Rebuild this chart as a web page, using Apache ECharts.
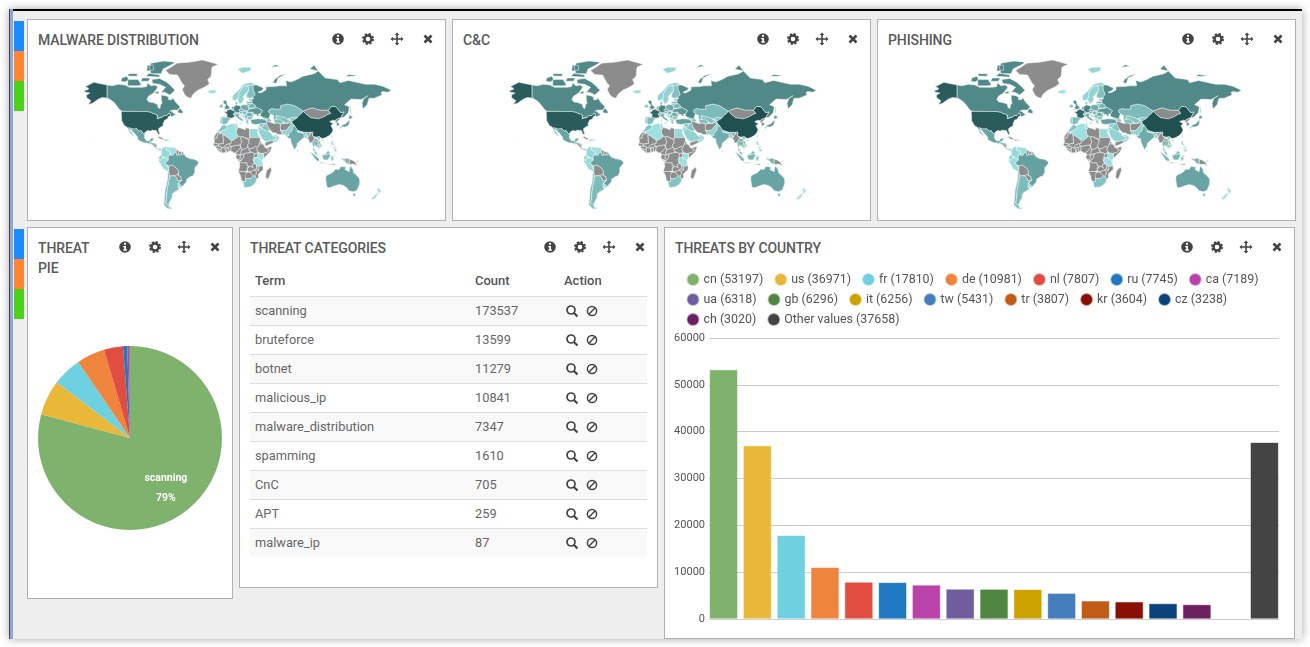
<!DOCTYPE html>
<html><head><meta charset="utf-8">
<script src="https://cdn.jsdelivr.net/npm/echarts@6/dist/echarts.min.js"></script>
<style>
html,body{margin:0;padding:0;width:1310px;height:647px;overflow:hidden;background:#fff;font-family:Roboto,Arial,sans-serif;color:#555}
#frame{position:absolute;left:9px;top:9px;width:1293px;height:630px;background:#eee;box-shadow:0 0 9px rgba(0,0,0,.35)}
#rail1{position:absolute;left:9px;top:9px;width:1px;height:630px;background:#444}
#rail2{position:absolute;left:10px;top:9px;width:3px;height:630px;background:#8ea6d8}
#topline{position:absolute;left:13px;top:9px;width:1289px;height:2px;background:#000}
.tab{position:absolute;left:14px;width:10px;height:30px}
.panel{position:absolute;background:#fff;border:1px solid #b0b0b0;box-sizing:border-box}
.title{position:absolute;left:10px;top:10px;font-size:14px;line-height:20px;font-weight:500;color:#5a5a5a;letter-spacing:-.1px}
.ico{position:absolute;top:12px;width:14px;height:14px}
#tbl{position:absolute;left:250px;top:267px;width:397px;font-size:12.8px;color:#666}
.row{position:absolute;left:0;width:397px;height:29px;box-sizing:border-box;border-top:1px solid #ddd;line-height:28px}
.row span,.hd span{position:absolute}
.hd{position:absolute;left:0;top:5px;width:397px;font-weight:500;color:#555;line-height:18px;font-size:13px}
.c1{left:5px}.c2{left:225px}.c3{left:314px}
#chart{position:absolute;left:0;top:0;width:1310px;height:647px}
</style></head><body>
<div id="frame"></div><div id="rail1"></div><div id="rail2"></div><div id="topline"></div>
<div id="chrome"></div>
<div id="tbl"></div>
<div id="chart"></div>
<script>
// ---------- table / pie data ----------
const threatTerms  = ['scanning','bruteforce','botnet','malicious_ip','malware_distribution','spamming','CnC','APT','malware_ip'];
const threatCounts = [173537,13599,11279,10841,7347,1610,705,259,87];
// ---------- bar data ----------
const countryNames  = ['cn','us','fr','de','nl','ru','ca','ua','gb','it','tw','tr','kr','cz','ch','Other values'];
const countryValues = [53197,36971,17810,10981,7807,7745,7189,6318,6296,6256,5431,3807,3604,3238,3020,37658];
const countrySlots  = [0,1,2,3,4,5,6,7,8,9,10,11,12,13,14,16];
const palette = ['#7EB26D','#EAB839','#6ED0E0','#EF843C','#E24D42','#1F78C1','#BA43A9','#705DA0','#508642','#CCA300','#447EBC','#C15C17','#890F02','#0A437C','#6D1F62','#444444'];
// ---------- choropleth shade levels (0 lightest .. 10 darkest; absent = grey) ----------
const malwareLevels = [['cn',10],['us',9.2],['fr',8.4],['de',6.6],['nl',6],['gb',5.8],['ru',6.1],['ca',6.1],['ua',5],['it',3.4],['tr',4.4],['kr',5],['cz',4],['ch',4],['jp',5],['tw',5],['br',4.4],['au',4.2],['mx',4.2],['in',3.6],['kz',2.6],['uz',2.2],['tm',2.2],['kg',2],['tj',1.5],['es',2.4],['pl',3.6],['se',1],['no',.8],['fi',2.2],['ro',3.4],['bg',2.6],['at',3],['be',4],['hu',2.8],['gr',1.6],['ar',2.5],['cl',2.5],['za',2],['th',2.5],['id',3],['my',2.4],['vn',1.5],['ph',.6],['nz',0],['dk',2.2],['ie',2.2],['is',0],['pt',2],['sa',1],['ae',2],['pk',1],['eg',.4],['dz',0],['tn',.4],['ma',2],['ke',0],['tz',0],['co',.5],['ve',0],['pe',.3],['ec',.5],['uy',.5],['by',3],['lt',2.2],['lv',2.2],['ee',2.2],['ge',2.5],['az',2],['sy',1.5],['il',2.5],['jo',1],['iq',2],['om',.5],['sk',3],['si',2.6],['hr',1.8],['rs',2.6],['ba',1.5],['al',1],['md',2],['np',1],['bd',1],['lk',1],['kh',1.5],['pa',.5],['cr',.5],['gt',1.5],['do',.5],['pr',.5],['sj',.8],['nc',1]];
const candcLevels   = malwareLevels.slice();
const phishingLevels = malwareLevels.slice();

// ---------- simplified country outlines, lon/lat ----------
const shapes = {
us:[[-124.7,48.4,-123,49,-95.2,49,-94.6,48.7,-89.6,48,-88,47,-84.8,46.5,-83.5,46,-82.5,45.3,-82.1,43,-83,42,-78.9,42.9,-79,43.3,-76.5,43.6,-75,45,-71.5,45,-70,46.7,-69,47.4,-67.8,47,-67,45,-70,43.7,-70.7,41.7,-74,40.6,-75.5,38,-76,36.9,-75.5,35.2,-78,33.9,-81,32,-81.3,30,-80,26.8,-80.3,25.2,-81.8,26,-82.8,28,-84,30,-85.5,29.7,-89,30.3,-89.5,29.2,-91,29.3,-94,29.7,-97.2,27.7,-97.2,26,-99.2,26.5,-101.4,29.7,-103,29,-104.8,30,-106.5,31.8,-108.2,31.5,-111,31.3,-114.8,32.5,-117.1,32.5,-118.5,34,-120.6,34.6,-122.5,37.5,-124.3,40.4,-124.2,43],
[-141,69.6,-141,60.3,-137.5,58.9,-133.5,57,-130,55,-131,55.2,-135,58,-139,59.8,-146,60.6,-149,60,-152,59,-154,58,-158,56,-163,54.8,-160,58,-162,59,-165,60.5,-165,62.5,-161,64,-166,64.6,-168,65.6,-163,66.5,-163,67.5,-166.5,68.3,-160,70.3,-156.5,71.3,-150,70.5],[-156,19,-155,19.6,-155.8,20.3]],
ca:[[-141,69.6,-135,69,-128,70,-120,69.5,-115,68,-108,68,-100,68,-95,68.5,-94,71,-90,69,-85,69.5,-82,68,-87,64,-93,61.5,-94.8,59,-92.5,57,-88,56.5,-82.5,55,-82,52.5,-79.5,51.3,-79,54.5,-77,56,-78,58.5,-78,62.4,-73,62,-69.5,61,-69.5,58.8,-66,58.8,-64.5,60.3,-61,56.5,-56,53,-59,50,-65,50,-68,49,-65,49,-64.5,47.5,-61,46,-66,43.7,-67,45,-67.8,47,-69,47.4,-70,46.7,-71.5,45,-75,45,-76.5,43.6,-79,43.3,-78.9,42.9,-83,42,-82.1,43,-82.5,45.3,-83.5,46,-84.8,46.5,-88,47,-89.6,48,-94.6,48.7,-95.2,49,-123,49,-124.7,49.5,-127,50.8,-130,54,-133.5,57,-137.5,58.9,-141,60.3],
[-62,66,-68,62.5,-74,64.5,-78,64.5,-73,68,-80,70,-88,70.5,-89,73,-80,73.7,-72,71.5,-67,69],[-117,69,-105,69,-101,69.5,-105,73,-117,73],[-90,76.5,-78,76.5,-76,79,-65,81.5,-62,82.5,-75,83,-90,82,-92,80],[-125,72,-120,71.5,-116,73,-118,75,-124,74],[-96,75,-80,74.5,-80,75.8,-92,76.8],[-117,75.2,-106,75,-106,76.5,-116,76.5],[-102,72,-93,72,-91,74,-100,74],[-95,78,-87,78.5,-87,81,-94,81],[-59,47.7,-53,46.8,-53,49,-56,51.5,-58,50.5],[-87,64,-81,63.5,-81,65.5]],
gl:[[-73,78.2,-68,76,-59,75.7,-54,71,-51,69,-53.5,66.5,-51,63,-48,61,-43.5,60,-41,63,-36,65.8,-27,68.3,-22,70.3,-24,73,-20,75,-19,80,-12,81.5,-30,83.5,-45,82.5,-60,82,-65,80.5]],
mx:[[-117.1,32.5,-114.8,32.5,-111,31.3,-108.2,31.5,-106.5,31.8,-104.8,30,-103,29,-101.4,29.7,-99.2,26.5,-97.2,26,-97.8,22.5,-96,19,-94,18.2,-91.5,18.6,-90.5,21,-87,21.5,-87.7,18.5,-89.2,17.8,-91,17.2,-92,14.6,-94.5,16.2,-97,15.9,-101.5,17.5,-105.5,20,-105.5,22.5,-109,26.5,-112.5,30,-113,31,-114.6,31.5,-114.8,30,-112,26.5,-109.7,23,-112,24.8,-115,28,-116,30.5]],
gt:[[-92,14.6,-91,17.2,-89.2,17.8,-88.2,15.7,-89.5,14.2,-90.5,13.9]],bz:[[-89.2,17.8,-88.3,18.4,-88.2,16]],sv:[[-90,13.7,-89.5,14.3,-87.8,13.2]],hn:[[-89.3,15,-88,15.9,-83.2,15,-84.7,14,-87.5,13]],ni:[[-87.5,13,-84.7,14,-83.2,15,-83.6,11,-85.7,11.1]],cr:[[-85.7,11.1,-83.6,11,-82.6,9.5,-83,8.3,-85.7,10]],pa:[[-83,8.3,-82.6,9.5,-79.5,9.6,-77.3,8.7,-77.9,7.2,-80.4,7.3]],
cu:[[-85,22,-80,23.2,-74.2,20.2,-77.7,19.9,-78,20.8,-82,22.5]],ht:[[-74.4,18.4,-71.8,18.2,-71.7,19.8,-73.4,19.8]],do:[[-71.8,18.2,-68.4,18.5,-69,19.8,-71.7,19.8]],jm:[[-78.3,18.3,-76.3,18,-76.5,18.4]],pr:[[-67.2,18,-65.7,18.2,-66,18.5,-67.2,18.5]],
co:[[-77.3,8.7,-75,11,-72,12.3,-71.3,11.5,-72.4,8,-70,7,-67.5,6.2,-67.8,2,-70,1.5,-69.8,-4.2,-72,-2.5,-75.3,0,-78.8,1.4,-77.5,4,-77.9,7.2]],
ve:[[-71.3,11.5,-68,11,-66,10.6,-62,10.7,-60,8.5,-60.7,5.2,-63,3.9,-64.5,1.3,-67,1,-67.8,2,-67.5,6.2,-70,7,-72.4,8]],
gy:[[-60,8.5,-57.2,6,-58,2,-59.8,1.3,-60.7,5.2]],sr:[[-57.2,6,-54,5.8,-54.5,2.3,-58,2]],gf:[[-54,5.8,-51.7,4.2,-52.7,2.3,-54.5,2.3]],
ec:[[-78.8,1.4,-75.3,0,-75.3,-1,-78.3,-3.5,-79,-5,-80.3,-3.4,-81,-1,-80,.5]],
pe:[[-80.3,-3.4,-79,-5,-78.3,-3.5,-75.3,-1,-75.3,0,-72,-2.5,-69.8,-4.2,-73.8,-7.3,-70.6,-11,-69.5,-10.9,-69,-16,-69.5,-17.5,-70.4,-18.3,-76,-14,-79,-8,-81.3,-5]],
bo:[[-69.5,-10.9,-65.3,-9.7,-60.2,-13.5,-58,-16.3,-58,-20,-62.6,-22,-66.3,-21.9,-68,-22.8,-69,-19,-69.5,-17.5,-69,-16]],
cl:[[-70.4,-18.3,-69.5,-17.5,-69,-19,-68,-22.8,-68.5,-25,-70,-32,-71.5,-40,-72,-47,-73,-50,-69,-52,-68.5,-54.9,-71,-54.5,-75,-51,-74,-44,-73.5,-37,-71.5,-30,-70.5,-25]],
ar:[[-66.3,-21.9,-62.6,-22,-60,-24,-58.6,-27.3,-54.6,-27,-54,-27,-55.5,-28,-58.2,-30,-58.4,-34,-57,-36.5,-62,-39,-65,-41,-65.5,-45,-69,-50,-69,-52,-73,-50,-72,-47,-71.5,-40,-70,-32,-68.5,-25,-68,-22.8],[-68.5,-52.7,-65.5,-54.8,-68.5,-55]],
py:[[-62.6,-22,-58,-20,-58,-22,-55.7,-22.3,-54.6,-25.5,-54.6,-27,-58.6,-27.3,-60,-24]],uy:[[-58.4,-34,-58.2,-30,-57.6,-30.2,-53.5,-33.7,-55,-35]],
br:[[-60.7,5.2,-59.8,1.3,-58,2,-54.5,2.3,-52.7,2.3,-51.7,4.2,-50,.5,-48,-.8,-44,-2.5,-40,-2.9,-35.3,-5.2,-34.8,-8,-39,-13,-39,-18,-41,-22,-44.5,-23.2,-48.5,-25.8,-48.7,-28.5,-53.5,-33.7,-57.6,-30.2,-55.5,-28,-54,-27,-54.6,-25.5,-55.7,-22.3,-58,-22,-58,-16.3,-60.2,-13.5,-65.3,-9.7,-69.5,-10.9,-70.6,-11,-73.8,-7.3,-69.8,-4.2,-70,1.5,-67.8,2,-67,1,-64.5,1.3,-63,3.9]],
fk:[[-61,-52,-58,-51.4,-58,-52.2]],
ma:[[-5.9,35.8,-2,35.1,-1.2,32.5,-3.5,31,-8.7,28.7,-8.7,27.7,-13,27.7,-9.8,31.5,-8.5,33.3]],eh:[[-13,27.7,-8.7,27.7,-8.7,26,-12,26,-13,23,-13,21.4,-17,21.4,-16,23.7,-14.5,26]],
dz:[[-2,35.1,3,36.9,8.6,36.9,8,33,9.5,30,9.8,26.5,12,23.5,6,19,3.3,19,-4.8,25,-8.7,27.3,-8.7,28.7,-3.5,31,-1.2,32.5]],tn:[[8.6,36.9,11,37,10.3,34.5,11.5,33,9.5,30,8,33]],
ly:[[11.5,33,15,32.3,20,30.5,20,32.9,25,31.7,25,20,24,19.5,16,23.3,14.2,22.6,12,23.5,9.8,26.5,9.5,30]],eg:[[25,31.7,34.2,31.3,34.9,29.5,33.7,27.9,35.7,23.9,36.9,22,25,22]],
sd:[[25,22,36.9,22,37.4,18.7,36.4,15,34.3,10.5,32.4,12.2,28,9.6,24,8.7,22.8,11,22.5,14,24,15.7,24,19.5,25,20]],ss:[[24,8.7,28,9.6,32.4,12.2,34.3,10.5,33.2,8.4,35,5,34,4.2,30.8,3.5,27.5,5,25,6]],
er:[[36.4,15,37.4,18.7,39,15.6,43.1,12.6,40,14.5]],et:[[36.4,15,40,14.5,42.5,12.5,42.8,11,48,8,44.9,4.9,41,3.9,39.5,3.5,36,4.4,35,5,33.2,8.4,34.3,10.5]],dj:[[41.8,11,43.2,12.6,43.3,11.4]],so:[[42.8,11,44.8,10.4,51.2,11.9,49,6,44,1,41.5,-1.7,41,-.9,41,3.9,44.9,4.9,48,8]],
ke:[[34,4.2,36,4.4,39.5,3.5,41,3.9,41,-.9,41.5,-1.7,39.2,-4.7,34,-1]],ug:[[30.8,3.5,34,4.2,34,-1,29.6,-1.4]],tz:[[34,-1,39.2,-4.7,40.4,-10.5,34.7,-11.5,32.5,-9.3,29.5,-6,30.5,-2.4,30.7,-1]],rw:[[29,-1.3,30.5,-1.2,30.5,-2.4,29.5,-4.4,29,-2.7]],
td:[[14.2,22.6,16,23.3,24,19.5,24,15.7,22.5,14,22.8,11,19,9,15.5,7.5,15,10,13.6,13.5,15.5,16.5]],ne:[[12,23.5,14.2,22.6,15.5,16.5,13.6,13.5,8.5,13,3.7,11.7,.2,14.9,3.3,15.4,3.3,19,6,19]],
ml:[[-4.8,25,3.3,19,3.3,15.4,.2,14.9,-3,13.6,-5.5,10.5,-8,10.2,-8.5,12,-11.4,12.2,-12,14.7,-5.5,15.5,-6.5,25]],mr:[[-17,21.4,-13,21.4,-13,23,-12,26,-8.7,26,-8.7,27.3,-4.8,25,-6.5,25,-5.5,15.5,-12,14.7,-16.5,16,-16,19]],
sn:[[-16.5,16,-12,14.7,-11.4,12.2,-16.7,12.4,-17.5,14.7]],gn:[[-15,11,-13.5,12.4,-11.4,12.2,-8.5,12,-8,10.2,-8.3,7.6,-10,8.5,-13,9.5]],sl:[[-13,9.5,-10,8.5,-11.5,7,-13.3,8.5]],lr:[[-11.5,7,-10,8.5,-8.3,7.6,-7.5,4.4]],ci:[[-8.3,7.6,-8,10.2,-5.5,10.5,-2.9,9.5,-2.9,5,-7.5,4.4]],gh:[[-2.9,11,0,11,.5,6,-2,4.8,-2.9,5]],bf:[[-5.5,10.5,-3,13.6,.2,14.9,3.7,11.7,2.2,11.5,0,11,-2.9,11,-2.9,9.5]],tg:[[0,11,2.2,11.5,3.7,11.7,2.7,6.3,.5,6]],
ng:[[3.7,11.7,8.5,13,13.6,13.5,14.5,11,12,7,11.2,6.5,8.5,4.6,6,4.3,4.5,6.3,2.7,6.3]],cm:[[8.5,4.6,11.2,6.5,12,7,14.5,11,13.6,13.5,15,10,15.5,7.5,14.5,4.5,16,2,9.8,2.3]],cf:[[15.5,7.5,19,9,22.8,11,24,8.7,25,6,27.5,5,23,4.5,18.5,3.5,16,2,14.5,4.5]],ga:[[9.8,2.3,14,2.2,14,-2.5,11,-3.8,8.8,-.8]],cg:[[14,2.2,16,2,18.5,3.5,17.8,-1,16,-3.5,12,-5,11,-3.8,14,-2.5]],
cd:[[18.5,3.5,23,4.5,27.5,5,30.8,3.5,29.6,-1.4,29,-2.7,29.5,-6,30.5,-8.2,28.5,-9,28,-12,29.8,-13.4,27,-11.8,24,-11,22,-11,21.8,-7.2,17,-7.5,13,-5.9,12,-5,16,-3.5,17.8,-1]],
ao:[[13,-5.9,17,-7.5,21.8,-7.2,22,-11,24,-11,24,-13,22,-13,22,-16.5,23,-17.5,18.5,-17.4,11.8,-17.2,13.5,-11]],zm:[[22,-13,24,-13,24,-11,27,-11.8,29.8,-13.4,28,-12,28.5,-9,30.5,-8.2,33,-9.5,33,-14,30.2,-15.6,28,-16.5,25.3,-17.8,23,-17.5,22,-16.5]],
na:[[11.8,-17.2,18.5,-17.4,23,-17.5,25.3,-17.8,21,-18.3,21,-22,20,-22,20,-28.4,17,-28.7,15,-26,14.4,-22]],bw:[[21,-18.3,25.3,-17.8,27,-20,29.3,-22.2,26,-25,23,-25.4,20,-25,20,-22,21,-22]],zw:[[25.3,-17.8,28,-16.5,30.2,-15.6,32.9,-17,32.5,-21,31,-22.4,29.3,-22.2,27,-20]],mz:[[34.7,-11.5,40.4,-10.5,40.7,-15,35,-20,35.5,-24,32.9,-26,32,-24,31,-22.4,32.5,-21,32.9,-17,30.2,-15.6,33,-14,35,-16.5,34.7,-13]],mw:[[33,-9.5,34.7,-11.5,34.7,-13,35,-16.5,33,-14]],
za:[[17,-28.7,20,-28.4,20,-25,23,-25.4,26,-25,29.3,-22.2,31,-22.4,32,-24,32.9,-26,32.5,-28.5,30,-31.5,26,-34,20,-34.8,18.4,-34,18,-31.5]],mg:[[49.3,-12,50.5,-15.5,47,-25,45,-25.5,43.5,-23,44.5,-16.5]],
es:[[-9,43.5,-1.8,43.4,3.2,42.4,0,39.5,-.5,38,-2,36.7,-5.5,36,-7.4,37.2,-7,42,-8.8,42]],pt:[[-8.8,42,-7,42,-7.4,37.2,-9,37,-9.5,38.8]],fr:[[-1.8,43.4,-1.2,46,-4.7,48.4,-1.5,48.7,-1.5,49.7,2.5,51,4.2,50,6,49.6,8.2,49,7.5,47.6,6,46.3,7.5,44,6,43,3.2,42.4]],
gb:[[-5.5,50,1.3,51.2,1.7,52.7,0,53.5,-1.5,55,-2,57.7,-5,58.6,-6,56.5,-3.2,54.8,-3,53.4,-5,52.8,-3,51.5]],ie:[[-10,52,-6.2,52.2,-6,54,-7.5,55.2,-10,54]],is:[[-24,65.5,-22,63.8,-18,63.4,-14,64.7,-15,66.3,-20,66]],
no:[[5,59,7,58,10.6,59,11,59,12.2,61,12,63.5,14.5,66,18,68.6,21,69,25,69,29,69.5,31,70.3,26,71.2,18,70,12,66,5,62]],se:[[11,59,12.8,56,14.3,55.5,16.5,57,18.5,59.5,17,61,21,64,24,65.8,23.7,68,21,69,18,68.6,14.5,66,12,63.5,12.2,61]],fi:[[24,65.8,21.5,63,21.3,60.7,25,60,28,60.5,31.5,62.8,29,66.5,29,69.5,25,69,21,69,23.7,68]],dk:[[8.2,55,8.2,57,10.5,57.5,10.5,55]],
nl:[[3.5,51.4,4.8,53,7,53.4,6,50.8]],be:[[2.5,51,3.5,51.4,6,50.8,6,49.6,4.2,50]],de:[[6,50.8,7,53.4,8.8,54,9,55,11,54,14.2,53.9,15,51,12.3,50.2,13.7,48.7,13,47.6,7.5,47.6,8.2,49,6,49.6]],ch:[[6,46.3,7.5,47.6,9.6,47.5,10.4,46.8,8.5,46]],at:[[9.6,47.5,13,47.6,13.7,48.7,17,48.7,16.3,46.9,10.4,46.8]],
it:[[7.5,44,6,46.3,8.5,46,10.4,46.8,12.3,47,13.7,45.7,12.3,45.2,12.5,44,16,41.8,18.5,40,17,40.5,16.5,39,16,38,15.5,40,12.5,41.5,10.5,43,8.8,44.4],[12.5,38,15.5,38.2,15,36.7],[8.3,41,9.7,41,9.5,39,8.5,39]],
pl:[[14.2,53.9,18.5,54.8,23,54.4,23.5,52.5,24,50.8,22.7,49.1,18.8,49.6,15,51]],cz:[[12.3,50.2,15,51,18.8,49.6,17,48.7,13.7,48.7]],sk:[[17,48.7,18.8,49.6,22.7,49.1,22,48.4,18,47.8]],hu:[[16.3,46.9,17,48.7,18,47.8,22,48.4,22.8,48,21,46.2,18.5,45.8]],si:[[13.7,45.7,16.3,46.9,16.5,46,14,45]],hr:[[14,45,16.5,46,18.5,45.8,19,45,15.8,44.7,18.5,42.5,15,44.5]],ba:[[15.8,44.7,19,45,19.2,43.5,18.5,42.5]],rs:[[19,45,18.5,45.8,21,46.2,22.7,44.2,22.5,42.4,20.5,42.2,19.2,43.5]],al:[[19.3,42,20.5,42.2,22.5,42.4,23,41.3,20.8,40.5,20,39.7,19.4,40.8]],gr:[[20,39.7,20.8,40.5,23,41.3,26.3,41.5,24,40.7,23,39.5,24,38,23,36.5,21.7,36.8,21,38.3]],bg:[[22.5,42.4,22.7,44.2,28.6,43.7,27.8,42,26.3,41.5,23,41.3]],ro:[[21,46.2,22.8,48,26.6,48.2,28.2,45.5,29.6,45,28.6,43.7,22.7,44.2]],md:[[26.6,48.2,29,47.9,30,46.4,28.2,45.5]],
ua:[[22,48.4,22.7,49.1,24,50.8,24,51.6,31,52,34,52.3,40,49.6,38,47,35,46.2,36.5,45.2,33.5,44.4,33,46,30,46,30,46.4,29,47.9,26.6,48.2,22.8,48]],by:[[24,51.6,23.5,52.5,23.5,53.9,26,55.5,28,56,31,54.5,32,53.5,31,52]],lt:[[21,56,26,55.5,23.5,53.9,21,55.3]],lv:[[21,56,21.5,57.5,24.5,57.3,25,58,27.5,57.6,28,56,26,55.5]],ee:[[23.5,59.2,28,59.5,27.5,57.6,25,58,24.5,58]],
tr:[[26.3,41.5,29,41.2,35,42,41.5,41.5,44.8,39.7,44.7,37.2,42.3,37,36.2,36.7,32.5,36.1,27.5,36.8,26.3,39.5]],ge:[[40,43.4,46.5,41.8,43.5,41.1,41.5,41.5]],az:[[43.5,41.1,46.5,41.8,48.5,41.8,50.3,40.3,48.9,38.4,44.8,39.7]],cy:[[32.4,35,34.5,35.6,33.5,34.8]],sy:[[36.2,36.7,42.3,37,41,34.5,38.8,33.4,36.4,33.5,35.8,34.7]],il:[[34.2,31.3,35.8,34.7,36.4,33.5,35.5,32.5,34.9,29.5]],jo:[[35.5,32.5,36.4,33.5,38.8,33.4,39,32,37,30,34.9,29.5]],
iq:[[42.3,37,44.7,37.2,46,34,48.5,30.5,47.8,30,46.5,29,44.7,29.2,39,32,38.8,33.4,41,34.5]],sa:[[34.9,29.5,37,30,39,32,44.7,29.2,46.5,29,48.5,28,50,26.5,51.5,24.3,55.2,22.7,55.7,20,52,19,48,18,43.5,17.4,42.8,16.5,39,21,37,25]],ye:[[43,12.8,42.8,16.5,43.5,17.4,48,18,52,19,53,16.5,45,12.8]],om:[[55.2,22.7,56.4,24.5,59.8,22.5,57.8,19,55,17,53,16.5,52,19,55.7,20]],ae:[[51.5,24.3,54,24.2,56.4,26,56.4,24.5,55.2,22.7]],
ir:[[44.8,39.7,48.9,38.4,50,37.4,54,37,56,38,61,36.5,60.5,33.5,61,31.5,60.8,29.8,63,27,61.7,25.2,57,25.7,56,27,52,27.5,48.5,30.5,46,34,44.7,37.2]],af:[[61,36.5,65,37.2,67.5,37.2,71,38,74.8,37,71,34,69.5,31.5,66.5,29.8,60.8,29.8,61,31.5,60.5,33.5]],pk:[[60.8,29.8,66.5,29.8,69.5,31.5,71,34,74.8,37,77,35.5,74.5,32.5,74.5,30,70,26,71,24.5,68,23.7,66.5,25.4,61.7,25.2,63,27]],
tm:[[53,42,52.5,41.5,54,37,56,38,61,36.5,65,37.2,66,38,62,40,60,42,56,41.3]],uz:[[56,45,56,41.3,60,42,62,40,66,38,67.5,37.2,71,38,71,40,73,40.8,69,41.5,66,43,61,44]],kz:[[46.7,48.5,47.5,50.3,51,51.5,55,50.8,61,51,61,53.9,69,55.3,77,54,83.5,51,87.3,49.1,85.5,47,82.5,45.3,80,42.5,74,43,69,41.5,66,43,61,44,56,45,56,41.3,52.5,41.5,53,45,49,46.5]],kg:[[69,41.5,74,43,80,42.5,76,40.4,74,39.5,71,40,73,40.8]],tj:[[67.5,37.2,71,38,74.8,37,74,39.5,71,40]],
in:[[68,23.7,71,24.5,70,26,74.5,30,74.5,32.5,77,35.5,79,32.5,81,30,80,28.5,88,26.5,88.5,27.8,88.8,27.2,92,26.8,96,29,97,28,94,24,93.3,22,92.3,23.5,92,25,89.8,25.5,88,24.5,89,22,87,21.4,85,19.5,80.3,15.5,80.2,13,77.5,8,76,10.5,73,17,72.7,21,70.5,21]],np:[[80,28.5,81,30,88,27.9,88,26.5]],bt:[[88.8,27.2,92,27.8,92,26.8]],bd:[[88,24.5,89.8,25.5,92,25,92.3,23.5,92.3,21,89,22]],lk:[[79.8,8,81.8,7.5,80.5,6,79.9,7]],
mn:[[87.3,49.1,92,50.7,98,52,102,51,107,50,114,50,116.7,49.8,119.5,47,116,46,111.5,43.7,105,41.8,96,42.8,91,46]],
cn:[[74,39.5,76,40.4,80,42.5,82.5,45.3,85.5,47,87.3,49.1,91,46,96,42.8,105,41.8,111.5,43.7,116,46,119.5,47,116.7,49.8,120,53.3,125.5,53,131,47.7,135,48.4,131,42.8,130.5,42.5,128,42,124.3,40,122,40.5,118,39,122.5,37,119.5,35,122,31,121,28,118,24.5,113.5,22,110,21,108,21.6,106,23,102,22.4,101,21.5,98,24,98.5,28,97,28,96,29,92,27.8,88.5,27.8,88,27.9,81,30,79,32.5,77,35.5,74.8,37],[108.7,19.3,110.5,20,110.5,18.5]],
tw:[[120.2,23,121.5,25.2,121,22]],kp:[[124.3,40,128,42,130.5,42.5,129.7,41,127.5,39.5,128.3,38.6,126,37.7,124.8,38.3]],kr:[[126,37.7,128.3,38.6,129.4,36,128,34.8,126.3,34.6]],jp:[[131,34,135.8,33.5,140,35,141,38,141.4,41,140,40,137,37,133,35.5],[130,33.5,131.8,33.5,131,31,130,31.5],[140,42,141.5,45.4,145.3,43.3,143,42]],
ru:[[29,69.5,33,69.5,41,67.5,40,66,34.5,64.5,37,64,40,64.7,44,66.2,44,68.3,54,68.5,60,69,68,69,67,72.5,73,71.5,80,73,87,75,100,76.5,105,78,113,74,127,73,130,71,140,72.5,160,70,170,70,180,68.8,190,66,186,64.5,180,65,178,64.5,179,62.5,170,60,164,60,163,58,162,55,157,51,155.8,56,158,60,163,62,155,59,143,59.3,135.5,54.7,141,53,140,48,135,43.5,131,42.8,135,48.4,131,47.7,125.5,53,120,53.3,116.7,49.8,114,50,107,50,102,51,98,52,92,50.7,87.3,49.1,83.5,51,77,54,69,55.3,61,53.9,61,51,55,50.8,51,51.5,47.5,50.3,46.7,48.5,49,46.5,47.5,43,48.5,41.8,46.5,41.8,40,43.4,37,45,38,47,40,49.6,34,52.3,31,52,32,53.5,31,54.5,28,56,27.5,57.6,28,59.5,30,60,28,60.5,31.5,62.8,29,66.5],[142,54.3,143,49,142.7,46.5,142,46.5,142,50],[52,71,56,70.7,58,74,68,76.5,60,75.5,54,73],[95,79,105,78,100,81],[137,75,145,75,150,75.5,140,76],[50,80,60,80.5,55,81.2]],
sj:[[11,79,16,76.7,25,78,27,80,17,80]],
mm:[[92.3,21,92.3,23.5,93.3,22,94,24,97,28,98.5,28,98,24,101,21.5,100,20,97.7,16,99,11,98.5,10,97.5,16.5,94.5,16,94,19]],th:[[100,20,102,18,105,18,105.5,14.5,102.5,12,100.5,13.5,99.5,10,102,6,100,6.5,98.5,8,99,11,97.7,16]],la:[[101,21.5,102,22.4,107,18,107.5,15,105.5,14.5,105,18,102,18,100,20]],vn:[[102,22.4,106,23,108,21.6,105.8,19,109.3,13,106.7,10.4,105,8.7,104.8,10.5,106,11.5,107.5,15,107,18]],kh:[[102.5,12,105.5,14.5,107.5,15,106,11.5,104.8,10.5]],
my:[[100,6.5,102,6,103.5,4,104,1.4,101,3],[109.5,2,113,3,116,7,119,5,117.5,4,115,2.5,110,1]],
id:[[95.3,5.5,98,4,103.5,0,106,-3,105.5,-6,102,-4,98.5,1],[105.2,-6.8,108,-6.5,114.5,-7.7,114.5,-8.7,108,-7.8],[109,1.5,110,1,115,2.5,117.5,4,119,1,116,-4,111,-3.5,110,-1],[119.5,-5.5,120,.8,125,1.5,121,-.5,123,-1,122,-5,120.5,-3,120.3,-5.6],[131,-1,135,-3,138,-1.6,141,-2.6,141,-9,138,-8,135,-4.5,133,-4],[116,-8.5,125,-8.3,124,-10,118,-9],[127.5,1,128.5,-.5,127.5,-1]],
pg:[[141,-2.6,145,-4.5,147.5,-6,150.5,-10.5,146,-8.5,143,-9,141,-9],[148.5,-5.5,152,-4.5,150,-6.2]],
ph:[[120,16,120.5,18.5,122.2,18.3,122,16,124,13,120.6,14],[122,7,125.5,9.7,126.5,7.5,125.5,5.8,124,6.5],[122,10.5,125,12.5,125,10,123,9.5],[117.3,8.5,119.5,11,119,10]],
au:[[114,-22,113.5,-26,115,-34.5,118,-35,124,-33,129,-31.5,134,-32.5,138,-35,140.5,-38,146,-39,150,-37.5,153,-31,153,-25.5,149,-21,146,-19,145.3,-15,142.7,-11,141.5,-13,140.8,-17.5,136,-15,137,-12,131,-11.5,129,-15,125,-14.5,122,-18,117,-20.5],[144.7,-41,148.3,-41,147.5,-43.5,146,-43.5]],
nz:[[172.7,-34.5,178.5,-37.7,175,-41.5,174.5,-39],[172.7,-40.5,174.2,-41.7,171,-45.5,168,-46.6,166.5,-45.8]],nc:[[164,-20,167,-22.4,166,-22]],fj:[[177.3,-18,178.6,-17.5,178,-18.2]],sb:[[157,-7,160,-9,161,-10]]
};
const features = Object.keys(shapes).map(code => ({type:'Feature',properties:{name:code},geometry:{type:'MultiPolygon',coordinates:shapes[code].map(f=>{const r=[];for(let i=0;i<f.length;i+=2)r.push([f[i],f[i+1]]);r.push(r[0]);return [r];})}}));
['worldMalware','worldCandC','worldPhishing'].forEach(n=>echarts.registerMap(n,{type:'FeatureCollection',features}));

// Miller cylindrical projection
const R2D=180/Math.PI;
const miller={project:([lon,lat])=>[lon,-R2D*1.25*Math.log(Math.tan(Math.PI/4+0.4*lat/R2D))],
 unproject:([x,y])=>[x,R2D*2.5*(Math.atan(Math.exp(-y/R2D/1.25))-Math.PI/4)]};

// ---------- chrome ----------
const panels=[
 {x:27,y:19,w:419,h:202,t:'MALWARE DISTRIBUTION'},{x:452,y:19,w:419,h:202,t:'C&amp;C'},{x:877,y:19,w:419,h:202,t:'PHISHING'},
 {x:27,y:227,w:206,h:372,t:'THREAT<br>PIE'},{x:239,y:227,w:419,h:361,t:'THREAT CATEGORIES'},{x:664,y:227,w:631,h:412,t:'THREATS BY COUNTRY'}];
const G='#444';
const icons={
 info:`<svg class="ico" viewBox="0 0 14 14" style="RIGHT"><circle cx="7" cy="7" r="5.8" fill="${G}"/><rect x="6" y="2.8" width="2" height="2" fill="#fff"/><path d="M5.2 6h2.8v3.6h1v1.2H5.2V9.6h1V7.2h-1z" fill="#fff"/></svg>`,
 cog:`<svg class="ico" viewBox="0 0 14 14" style="RIGHT"><circle cx="7" cy="7" r="3.5" fill="none" stroke="${G}" stroke-width="2.4"/><circle cx="7" cy="7" r="5" fill="none" stroke="${G}" stroke-width="2" stroke-dasharray="2.2 1.73"/></svg>`,
 move:`<svg class="ico" viewBox="0 0 14 14" style="RIGHT"><path d="M7 .5L9.3 3H7.8v3.2H11V4.7L13.5 7 11 9.3V7.8H7.8V11h1.5L7 13.5 4.7 11h1.5V7.8H3v1.5L.5 7 3 4.7v1.5h3.2V3H4.7z" fill="${G}"/></svg>`,
 close:`<svg class="ico" viewBox="0 0 14 14" style="RIGHT"><path d="M3.5 3.5l7 7M10.5 3.5l-7 7" stroke="${G}" stroke-width="2.6"/></svg>`};
let html='';
[[21],[51],[81],[229],[259],[289]].forEach(([y],i)=>{html+=`<div class="tab" style="top:${y}px;background:${['#1a8cff','#ff8533','#4cd11a'][i%3]}"></div>`;});
panels.forEach(p=>{
 const ic=[['info',113],['cog',83],['move',54],['close',23]].map(([k,r])=>icons[k].replace('RIGHT',`right:${r-13}px`)).join('');
 html+=`<div class="panel" style="left:${p.x}px;top:${p.y}px;width:${p.w}px;height:${p.h}px"><div class="title">${p.t}</div>${ic}</div>`;
});
document.getElementById('chrome').innerHTML=html;
// ---------- table ----------
let t=`<div class="hd"><span class="c1">Term</span><span class="c2">Count</span><span class="c3">Action</span></div>`;
const acts=`<svg width="14" height="14" viewBox="0 0 14 14" style="position:absolute;left:315px;top:7px"><circle cx="6" cy="6" r="4" fill="none" stroke="${G}" stroke-width="1.7"/><path d="M9 9l3.5 3.5" stroke="${G}" stroke-width="2.2"/></svg><svg width="14" height="14" viewBox="0 0 14 14" style="position:absolute;left:335px;top:7px"><circle cx="7" cy="7" r="4.6" fill="none" stroke="${G}" stroke-width="1.5"/><path d="M3.8 10.2l6.4-6.4" stroke="${G}" stroke-width="1.5"/></svg>`;
threatTerms.forEach((n,i)=>{t+=`<div class="row" style="top:${29+29*i}px;background:${i%2?'#fff':'#f9f9f9'}"><span class="c1">${n}</span><span class="c2">${threatCounts[i]}</span>${acts}</div>`;});
document.getElementById('tbl').innerHTML=t;

// ---------- chart ----------
const chart=echarts.init(document.getElementById('chart'),null,{renderer:'canvas'});
const mapSeries=(map,levels,offset)=>({type:'map',map,projection:miller,left:84+offset,top:60,width:307.4,height:149,silent:true,roam:false,selectedMode:false,showLegendSymbol:false,
 label:{show:false},emphasis:{disabled:true},itemStyle:{areaColor:'#8c8c8c',borderColor:'#eef5f5',borderWidth:.5},
 data:levels.map(([name,value])=>({name,value}))});
const legendLabels=countryNames.map((n,i)=>`${n} (${countryValues[i]})`);
const legendRow=(from,to,top)=>({left:681.5,top,itemWidth:11,itemHeight:11,itemGap:11,icon:'circle',selectedMode:false,textStyle:{color:'#555',fontSize:12.4,fontFamily:'Roboto'},data:legendLabels.slice(from,to)});
chart.setOption({
 animation:false,
 backgroundColor:'transparent',
 visualMap:{show:false,type:'continuous',min:0,max:10,seriesIndex:[0,1,2],inRange:{color:['#9de0e0','#215050']}},
 grid:{left:709,top:338,width:570,height:280.8},
 xAxis:{type:'value',min:-0.43,max:16.43,show:false},
 yAxis:{type:'value',min:0,max:60000,interval:10000,axisLine:{show:false},axisTick:{show:false},
  axisLabel:{color:'#555',fontSize:11,fontFamily:'Roboto',margin:4,formatter:v=>String(v)},splitLine:{lineStyle:{color:'#ccc',width:1}}},
 legend:[legendRow(0,7,268),legendRow(7,14,288),legendRow(14,16,308)],
 series:[
  mapSeries('worldMalware',malwareLevels,0),mapSeries('worldCandC',candcLevels,425),mapSeries('worldPhishing',phishingLevels,850),
  {type:'pie',center:[130,438],radius:[0,92],startAngle:90,clockwise:true,percentPrecision:0,silent:true,
   itemStyle:{borderWidth:0},labelLine:{show:false},
   label:{show:false},
   data:threatTerms.map((name,i)=>({name,value:threatCounts[i],itemStyle:{color:palette[i]},
     label:i===0?{show:true,position:'inner',formatter:'{b}\n\n{d}%',color:'#fff',fontSize:10.5,fontWeight:'bold',fontFamily:'Roboto',lineHeight:10,offset:[6,12]}:{show:false}}))},
  ...legendLabels.map((name,i)=>({type:'bar',name,barWidth:28,barGap:'-100%',silent:true,itemStyle:{color:palette[i],borderColor:palette[i]+'66',borderWidth:1},data:[[countrySlots[i],countryValues[i]]]}))
 ]
});
</script>
</body></html>
